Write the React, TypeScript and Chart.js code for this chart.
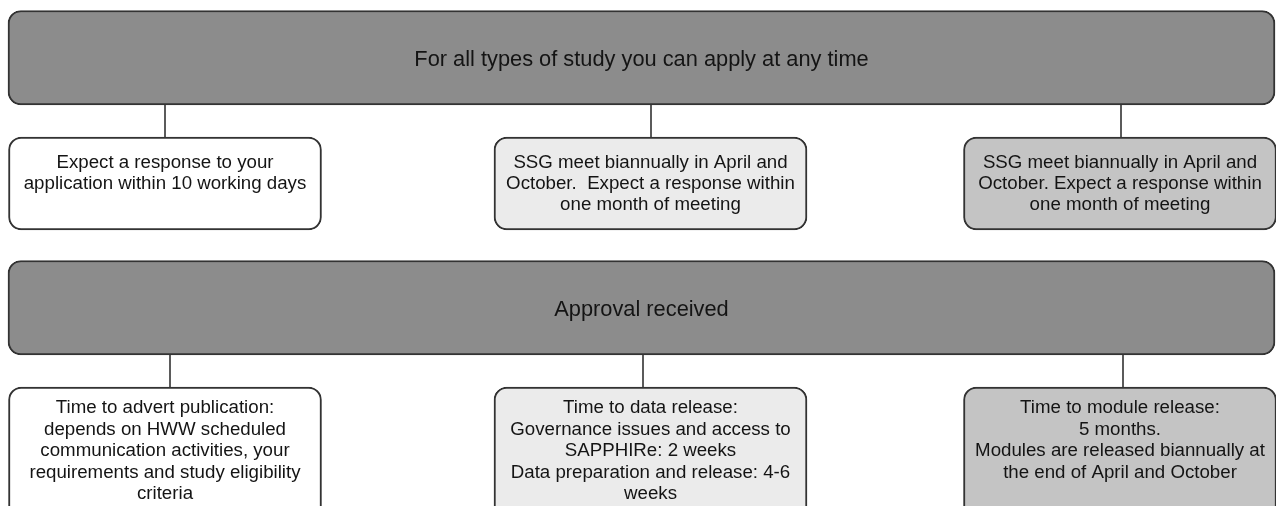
import React, { useEffect, useRef } from "react";
import { Chart, registerables } from "chart.js";

Chart.register(...registerables);

// ---- Data (layout units: 1 unit = 1 px of the 1276 x 506 board) ----
const bannerTexts: string[] = [
  "For all types of study you can apply at any time",
  "Approval received",
];
const bannerCenter: number[] = [641.5, 641.5];
const bannerSpans: [number, number][] = [
  [10.5, 105],
  [260.5, 355],
];

const applyTexts: string[][] = [
  ["Expect a response to your", "application within 10 working days"],
  ["SSG meet biannually in April and", "October.  Expect a response within", "one month of meeting"],
  ["SSG meet biannually in April and", "October. Expect a response within", "one month of meeting"],
];
const releaseTexts: string[][] = [
  [
    "Time to advert publication:",
    "depends on HWW scheduled",
    "communication activities, your",
    "requirements and study eligibility",
    "criteria",
  ],
  [
    "Time to data release:",
    "Governance issues and access to",
    "SAPPHIRe: 2 weeks",
    "Data preparation and release: 4-6",
    "weeks",
  ],
  [
    "Time to module release:",
    "5 months.",
    "Modules are released biannually at",
    "the end of April and October",
  ],
];
const columnCenters: number[] = [165, 650.5, 1120];
const applySpan: [number, number] = [137, 230];
const releaseSpan: [number, number] = [387, 522];

const topConnectorX: number[] = [165, 651, 1121];
const topConnectorSpan: [number, number] = [105, 137];
const bottomConnectorX: number[] = [170, 643, 1123];
const bottomConnectorSpan: [number, number] = [355, 387];

// ---- Styles ----
const BANNER_FILL = "#8c8c8c";
const COLUMN_FILLS = ["#ffffff", "#ebebeb", "#c4c4c4"];
const BORDER = "#333333";
const TEXT = "#141414";
const FONT = '"Liberation Sans", Arial, Helvetica, sans-serif';

const textGroups: { texts: string[][]; mode: "center" | "top"; pad: number; size: number; lh: number }[] = [
  { texts: bannerTexts.map((t) => [t]), mode: "center", pad: 8, size: 21.8, lh: 24 },
  { texts: applyTexts, mode: "top", pad: 31, size: 18.7, lh: 21 },
  { texts: releaseTexts, mode: "top", pad: 26, size: 18.7, lh: 21.5 },
];

const textPlugin = {
  id: "boxText",
  afterDatasetsDraw(chart: any) {
    const ctx = chart.ctx as CanvasRenderingContext2D;
    textGroups.forEach((g, di) => {
      const meta = chart.getDatasetMeta(di);
      meta.data.forEach((el: any, i: number) => {
        const { x, y, base } = el.getProps(["x", "y", "base"], true);
        const top = Math.min(y, base);
        const bottom = Math.max(y, base);
        const lines = g.texts[i] || [];
        ctx.save();
        ctx.fillStyle = TEXT;
        ctx.font = `${g.size}px ${FONT}`;
        ctx.textAlign = "center";
        ctx.textBaseline = "alphabetic";
        lines.forEach((line, k) => {
          const yy =
            g.mode === "center"
              ? (top + bottom) / 2 + g.pad + (k - (lines.length - 1) / 2) * g.lh
              : top + g.pad + k * g.lh;
          ctx.fillText(line, x, yy);
        });
        ctx.restore();
      });
    });
  },
};

export default function App() {
  const ref = useRef<HTMLCanvasElement | null>(null);

  useEffect(() => {
    if (!ref.current) return;
    const connector = (x: number, span: [number, number]) => ({
      type: "line" as const,
      data: [
        { x, y: span[0] },
        { x, y: span[1] },
      ],
      borderColor: BORDER,
      borderWidth: 1.6,
      pointRadius: 0,
      fill: false,
      order: 10,
    });

    const chart = new Chart(ref.current, {
      type: "bar",
      data: {
        datasets: [
          {
            data: bannerSpans.map((s, i) => ({ x: bannerCenter[i], y: s })) as any,
            backgroundColor: BANNER_FILL,
            borderColor: BORDER,
            borderWidth: 2,
            borderRadius: 13,
            borderSkipped: false,
            barThickness: 1267,
            grouped: false,
          } as any,
          {
            data: columnCenters.map((c) => ({ x: c, y: applySpan })) as any,
            backgroundColor: COLUMN_FILLS,
            borderColor: BORDER,
            borderWidth: 2,
            borderRadius: 13,
            borderSkipped: false,
            barThickness: 313,
            grouped: false,
          } as any,
          {
            data: columnCenters.map((c) => ({ x: c, y: releaseSpan })) as any,
            backgroundColor: COLUMN_FILLS,
            borderColor: BORDER,
            borderWidth: 2,
            borderRadius: 13,
            borderSkipped: false,
            barThickness: 313,
            grouped: false,
          } as any,
          ...topConnectorX.map((x) => connector(x, topConnectorSpan)),
          ...bottomConnectorX.map((x) => connector(x, bottomConnectorSpan)),
        ] as any,
      },
      options: {
        responsive: false,
        animation: false,
        events: [],
        layout: { padding: 0 },
        plugins: {
          legend: { display: false },
          tooltip: { enabled: false },
        },
        scales: {
          x: { type: "linear", min: 0, max: 1276, display: false, offset: false },
          y: { type: "linear", min: 0, max: 506, reverse: true, display: false },
        },
      },
      plugins: [textPlugin],
    });
    return () => chart.destroy();
  }, []);

  return (
    <div style={{ position: "absolute", left: 0, top: 0, width: 1276, height: 506, background: "#ffffff" }}>
      <canvas ref={ref} width={1276} height={506} style={{ display: "block" }} />
    </div>
  );
}
